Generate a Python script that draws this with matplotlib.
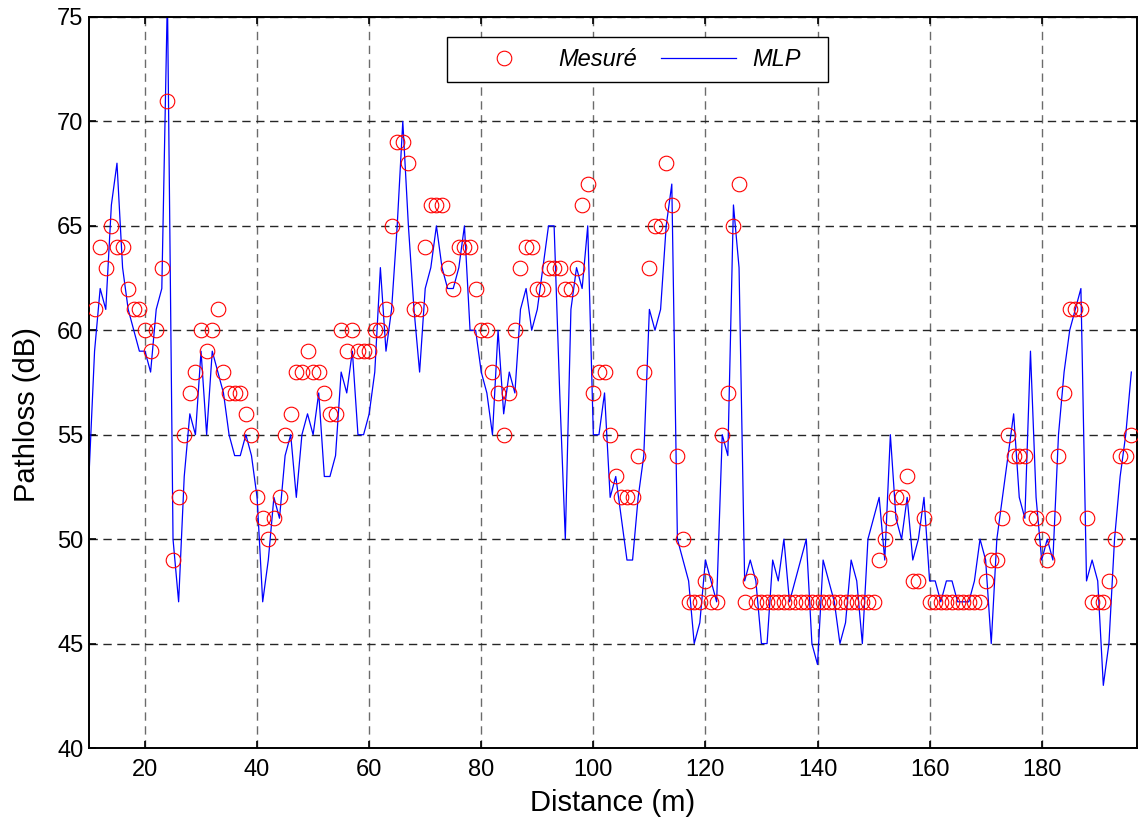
import numpy as np
import matplotlib.pyplot as plt
from matplotlib.patches import Rectangle

plt.rcParams['font.family'] = ['Liberation Sans', 'DejaVu Sans']

# measured path loss, one reading per metre (11 .. 196 m)
dist_mes = np.arange(11, 197)
pl_mes = [
    61, 64, 63, 65, 64, 64, 62, 61, 61, 60,
    59, 60, 63, 71, 49, 52, 55, 57, 58, 60,
    59, 60, 61, 58, 57, 57, 57, 56, 55, 52,
    51, 50, 51, 52, 55, 56, 58, 58, 59, 58,
    58, 57, 56, 56, 60, 59, 60, 59, 59, 59,
    60, 60, 61, 65, 69, 69, 68, 61, 61, 64,
    66, 66, 66, 63, 62, 64, 64, 64, 62, 60,
    60, 58, 57, 55, 57, 60, 63, 64, 64, 62,
    62, 63, 63, 63, 62, 62, 63, 66, 67, 57,
    58, 58, 55, 53, 52, 52, 52, 54, 58, 63,
    65, 65, 68, 66, 54, 50, 47, 47, 47, 48,
    47, 47, 55, 57, 65, 67, 47, 48, 47, 47,
    47, 47, 47, 47, 47, 47, 47, 47, 47, 47,
    47, 47, 47, 47, 47, 47, 47, 47, 47, 47,
    49, 50, 51, 52, 52, 53, 48, 48, 51, 47,
    47, 47, 47, 47, 47, 47, 47, 47, 47, 48,
    49, 49, 51, 55, 54, 54, 54, 51, 51, 50,
    49, 51, 54, 57, 61, 61, 61, 51, 47, 47,
    47, 48, 50, 54, 54, 55,
]

# MLP prediction (10 .. 196 m)
dist_mlp = np.arange(10, 197)
pl_mlp = [
    53,
    59, 62, 61, 66, 68, 63, 61, 60, 59, 59,
    58, 61, 62, 76, 50, 47, 53, 56, 55, 59,
    55, 59, 58, 57, 55, 54, 54, 55, 54, 52,
    47, 49, 52, 51, 54, 55, 52, 55, 56, 55,
    57, 53, 53, 54, 58, 57, 59, 55, 55, 56,
    58, 63, 59, 61, 65, 70, 65, 61, 58, 62,
    63, 65, 63, 62, 62, 63, 65, 60, 60, 58,
    57, 55, 60, 56, 58, 57, 61, 62, 60, 61,
    63, 65, 65, 57, 50, 61, 63, 62, 65, 55,
    55, 57, 52, 53, 51, 49, 49, 52, 54, 61,
    60, 61, 65, 67, 50, 49, 48, 45, 46, 49,
    48, 47, 55, 54, 66, 63, 48, 49, 48, 45,
    45, 49, 48, 50, 47, 48, 49, 50, 45, 44,
    49, 48, 47, 45, 46, 49, 48, 45, 50, 51,
    52, 49, 55, 51, 50, 52, 49, 50, 52, 48,
    48, 47, 48, 48, 47, 47, 47, 48, 50, 49,
    45, 50, 52, 54, 56, 52, 51, 59, 52, 49,
    50, 49, 55, 58, 60, 61, 62, 48, 49, 48,
    43, 45, 50, 53, 55, 58,
]

x_ticks = np.arange(20, 181, 20)
y_ticks = np.arange(40, 76, 5)

fig = plt.figure(figsize=(11.39, 8.21), dpi=100)
ax = fig.add_axes([0.0781, 0.0889, 0.9201, 0.8904])

ax.plot(dist_mes, pl_mes, 'o', mfc='none', mec='red', ms=10.5, mew=0.8,
        label='Mesuré', zorder=3)
ax.plot(dist_mlp, pl_mlp, '-', color='blue', lw=0.9, label='MLP', zorder=2)

ax.set_xlim(10, 197)
ax.set_ylim(40, 75)
ax.set_xticks(x_ticks)
ax.set_yticks(y_ticks)
ax.tick_params(direction='in', length=5, width=1.2, labelsize=17,
               top=True, right=True, colors='black')
ax.tick_params(axis='x', pad=8)
ax.tick_params(axis='y', pad=4)
for sp in ax.spines.values():
    sp.set_linewidth(1.4)

# dashed grid: vertical lines lighter than horizontal ones
ax.xaxis.grid(True, color='0.42', linestyle=(0, (6, 4)), linewidth=1.0)
ax.yaxis.grid(True, color='0.15', linestyle=(0, (6, 4)), linewidth=1.0)
ax.set_axisbelow(True)

ax.set_xlabel('Distance (m)', fontsize=21, labelpad=6)
ax.set_ylabel('Pathloss (dB)', fontsize=21)
ax.yaxis.set_label_coords(-0.046, 0.4555)

# legend box drawn separately so the padding can be set per side
ax.add_patch(Rectangle((0.3416, 0.9111), 0.3636, 0.0615, transform=ax.transAxes,
                       facecolor='white', edgecolor='black', lw=1.0, zorder=4.5))
leg = ax.legend(loc='center', bbox_to_anchor=(0.5198, 0.9419), ncol=2,
                frameon=False, prop={'style': 'italic', 'size': 17},
                handlelength=3.2, handletextpad=0.7, columnspacing=1.0,
                borderpad=0.0, borderaxespad=0.0)
leg.set_zorder(5)

fig.savefig('out.png', dpi=100)
